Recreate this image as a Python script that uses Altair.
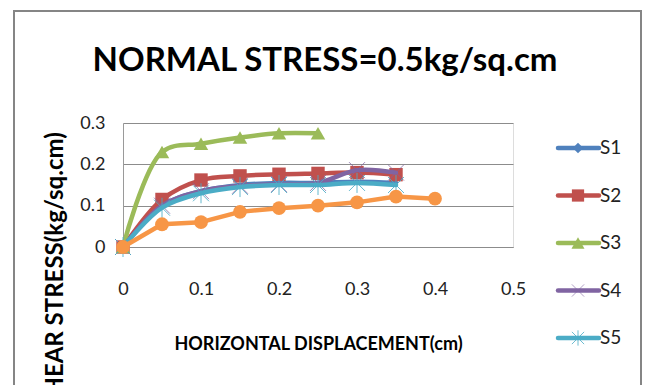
import altair as alt
import pandas as pd

# ---- data ----
series = ["S1", "S2", "S3", "S4", "S5", "S6"]
disp = [0, 0.05, 0.1, 0.15, 0.2, 0.25, 0.3, 0.35, 0.4]
s1 = [0, 0.100, 0.135, 0.150, 0.155, 0.155, 0.158, 0.155]
s2 = [0, 0.115, 0.162, 0.172, 0.176, 0.178, 0.180, 0.175]
s3 = [0, 0.230, 0.250, 0.265, 0.275, 0.275]
s4 = [0, 0.100, 0.135, 0.148, 0.152, 0.155, 0.186, 0.180]
s5 = [0, 0.095, 0.130, 0.145, 0.150, 0.150, 0.155, 0.150]
s6 = [0, 0.055, 0.060, 0.085, 0.094, 0.100, 0.108, 0.122, 0.117]
x_ticks = [0, 0.1, 0.2, 0.3, 0.4, 0.5]
y_ticks = [0, 0.1, 0.2, 0.3]
legend_series = ["S1", "S2", "S3", "S4", "S5"]  # entries visible in the reference legend

values = {"S1": s1, "S2": s2, "S3": s3, "S4": s4, "S5": s5, "S6": s6}
rows = []
for name in series:
    for xv, yv in zip(disp, values[name]):
        rows.append({"series": name, "disp": xv, "stress": yv})
df = pd.DataFrame(rows)
leg_df = pd.DataFrame({"series": legend_series})

# ---- styles ----
colors = {"S1": "#4F81BD", "S2": "#C0504D", "S3": "#9BBB59",
          "S4": "#8064A2", "S5": "#4BACC6", "S6": "#F79646"}
X_PATH = "M-1,-1L1,1M-1,1L1,-1"
AST_PATH = "M-1,-1L1,1M-1,1L1,-1M0,-1.25L0,1.25"
marker = {
    "S1": dict(shape="diamond", filled=True, size=0),
    "S2": dict(shape="square", filled=True, size=180),
    "S3": dict(shape="triangle-up", filled=True, size=210),
    "S4": dict(shape=X_PATH, filled=False, size=256, strokeWidth=1, opacity=0.75),
    "S5": dict(shape=AST_PATH, filled=False, size=256, strokeWidth=1, opacity=0.85),
    "S6": dict(shape="circle", filled=True, size=190),
}
leg_marker = {
    "S1": dict(shape="diamond", filled=True, size=110),
    "S2": dict(shape="square", filled=True, size=150),
    "S3": dict(shape="triangle-up", filled=True, size=170),
    "S4": dict(shape=X_PATH, filled=False, size=150, strokeWidth=1, opacity=0.6),
    "S5": dict(shape=AST_PATH, filled=False, size=150, strokeWidth=1, opacity=0.8),
}
interp = {"S1": "catmull-rom", "S2": "catmull-rom", "S3": "catmull-rom",
          "S4": "catmull-rom", "S5": "catmull-rom", "S6": "linear"}

FONT = "Lato"
xaxis = alt.Axis(values=x_ticks, format="~g", title="HORIZONTAL DISPLACEMENT(cm)",
                 grid=False, ticks=False, tickSize=0, domain=True, domainColor="#8c8c8c",
                 domainWidth=1, labelFont=FONT, labelFontSize=18, labelColor="#222222",
                 labelPadding=33, labelFlush=False, titleFont=FONT, titleFontSize=18,
                 titleFontWeight="bold", titleColor="#000000", titleY=102,
                 titleBaseline="alphabetic")
yaxis = alt.Axis(values=y_ticks, format="~g", title="SHEAR STRESS(kg/sq.cm)",
                 grid=True, gridColor="#8c8c8c", gridWidth=1, ticks=False, tickSize=0,
                 domain=True, domainColor="#9a9a9a", domainWidth=1,
                 labelFont=FONT, labelFontSize=18, labelColor="#222222", labelPadding=18,
                 labelFlush=False,
                 titleFont=FONT, titleFontSize=24, titleFontWeight="bold", titleColor="#000000",
                 titleAngle=270, titleX=-61, titleY=147, titleBaseline="alphabetic",
                 titleAlign="center")
xenc = alt.X("disp:Q", scale=alt.Scale(domain=[0, 0.5], nice=False), axis=xaxis)
yenc = alt.Y("stress:Q", scale=alt.Scale(domain=[0, 0.3], nice=False), axis=yaxis)

base = alt.Chart(df)
main_layers = []
for name in series:
    sub = base.transform_filter(alt.datum.series == name)
    main_layers.append(
        sub.mark_line(color=colors[name], strokeWidth=4.5, interpolate=interp[name],
                      strokeJoin="round", strokeCap="round").encode(x=xenc, y=yenc)
    )
    m = marker[name]
    if m["size"] > 0:
        kw = dict(shape=m["shape"], filled=m["filled"], size=m["size"], color=colors[name],
                  opacity=m.get("opacity", 1))
        if not m["filled"]:
            kw["strokeWidth"] = m["strokeWidth"]
        main_layers.append(sub.mark_point(**kw).encode(x=xenc, y=yenc))
main = alt.layer(*main_layers)

# ---- legend (Excel style: line + marker + label) ----
leg_scale = alt.Scale(type="point", domain=legend_series, range=[25, 215], padding=0)
leg_y = alt.Y("series:N", scale=leg_scale, axis=None)
leg_base = alt.Chart(leg_df)
leg_layers = []
for name in legend_series:
    sub = leg_base.transform_filter(alt.datum.series == name)
    leg_layers.append(sub.mark_rule(color=colors[name], strokeWidth=4.5, strokeCap="round")
                      .encode(y=leg_y, x=alt.value(435), x2=alt.value(476)))
    m = leg_marker[name]
    kw = dict(shape=m["shape"], filled=m["filled"], size=m["size"], color=colors[name],
              opacity=m.get("opacity", 1))
    if not m["filled"]:
        kw["strokeWidth"] = m["strokeWidth"]
    leg_layers.append(sub.mark_point(**kw).encode(y=leg_y, x=alt.value(455)))
leg_layers.append(leg_base.mark_text(align="left", baseline="middle", font=FONT, fontSize=19,
                                     color="#222222")
                  .encode(y=leg_y, x=alt.value(477), text="series:N"))
legend = alt.layer(*leg_layers)

# ---- outer chart border ----
border = alt.Chart(pd.DataFrame({"k": [0]})).mark_rect(
    filled=False, color="#858585", strokeWidth=2).encode(
    x=alt.value(-109), x2=alt.value(518), y=alt.value(-112), y2=alt.value(300))

chart = alt.layer(border, main, legend).resolve_scale(y="independent", x="independent").properties(
    width=390, height=124,
    title=alt.TitleParams("NORMAL STRESS=0.5kg/sq.cm", font=FONT, fontSize=33,
                          fontWeight="bold", color="#000000", anchor="middle",
                          frame="group", dx=7, offset=-68),
    padding={"left": 123, "top": 123, "right": 133, "bottom": 138},
    autosize=alt.AutoSizeParams(type="none"),
).configure_view(stroke=None).configure(background="white")

chart.save("out.html", embed_options={"renderer": "svg", "actions": False})
